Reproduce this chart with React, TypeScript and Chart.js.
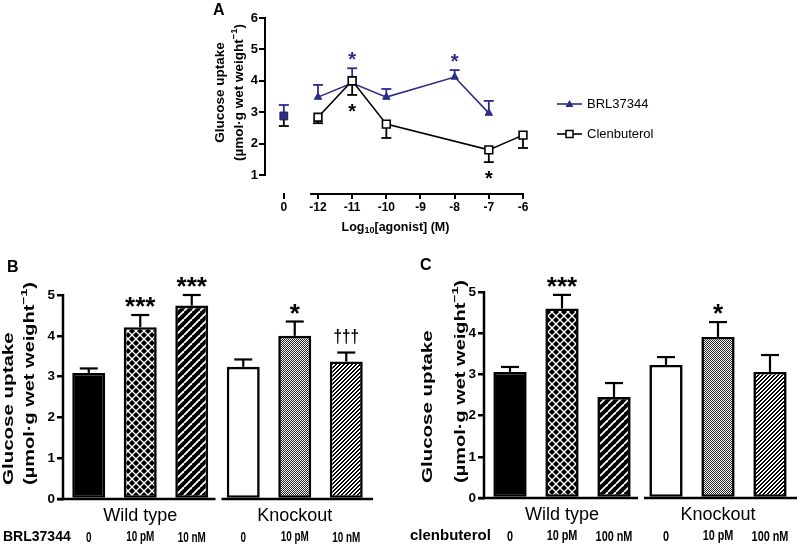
import React, { useEffect, useRef } from 'react';
import { Chart, registerables } from 'chart.js';

Chart.register(...registerables);

const FONT = '"Liberation Sans", Arial, Helvetica, sans-serif';
const NAVY = '#2b2d86';

// ---------------- Panel A data ----------------
const aTickValues = [-13, -12, -11, -10, -9, -8, -7, -6];
const aTickLabels = ['0', '-12', '-11', '-10', '-9', '-8', '-7', '-6'];
const aYTicks = [1, 2, 3, 4, 5, 6];
const basalX = [-13];
const basalMean = [2.88];
const basalErrHigh = [3.23];
const basalErrLow = [2.56];
const brlX = [-12, -11, -10, -8, -7];
const brlMean = [3.48, 3.93, 3.48, 4.12, 2.97];
const brlErrHigh = [3.87, 4.4, 3.74, 4.34, 3.36];
const brlSig = ['', '*', '', '*', ''];
const clenX = [-12, -11, -10, -7, -6];
const clenMean = [2.84, 4.0, 2.62, 1.8, 2.27];
const clenErrLow = [2.65, 3.55, 2.18, 1.41, 1.86];
const clenSig = ['', '*', '', '*', ''];
const legendLabels = ['BRL37344', 'Clenbuterol'];

// ---------------- Panel B data ----------------
const bDoses = ['0', '10 pM', '10 nM', '0', '10 pM', '10 nM'];
const bMean = [3.09, 4.21, 4.74, 3.24, 4.0, 3.37];
const bErrTop = [3.2, 4.51, 5.0, 3.42, 4.35, 3.59];
const bMarks = ['', '***', '***', '', '*', '†††'];

// ---------------- Panel C data ----------------
const cDoses = ['0', '10 pM', '100 nM', '0', '10 pM', '100 nM'];
const cMean = [3.06, 4.6, 2.45, 3.23, 3.91, 3.06];
const cErrTop = [3.18, 4.93, 2.79, 3.42, 4.27, 3.47];
const cMarks = ['', '***', '', '', '*', ''];

const groupNames = ['Wild type', 'Knockout'];
const groupIndex = [1, 4];
const barTicks = [0, 1, 2, 3, 4, 5];

// ---------------- helpers ----------------
type Part = { t: string; size: number; bold?: boolean; dy?: number };
const fontOf = (size: number, bold = true) => `${bold ? 'bold ' : ''}${size}px ${FONT}`;

function drawRich(ctx: CanvasRenderingContext2D, parts: Part[], x: number, y: number, align: 'center' | 'left') {
  ctx.textBaseline = 'middle';
  ctx.textAlign = 'left';
  let total = 0;
  parts.forEach((p) => {
    ctx.font = fontOf(p.size, p.bold !== false);
    total += ctx.measureText(p.t).width;
  });
  let cx = align === 'center' ? x - total / 2 : x;
  parts.forEach((p) => {
    ctx.font = fontOf(p.size, p.bold !== false);
    ctx.fillText(p.t, cx, y + (p.dy ?? 0));
    cx += ctx.measureText(p.t).width;
  });
}

function vTitle(ctx: CanvasRenderingContext2D, parts: Part[], x: number, y: number, align: 'center' | 'left', squeeze: number) {
  ctx.save();
  ctx.translate(x, y);
  ctx.rotate(-Math.PI / 2);
  ctx.scale(1, squeeze);
  ctx.fillStyle = '#000';
  drawRich(ctx, parts, 0, 0, align);
  ctx.restore();
}

function glyphCentered(ctx: CanvasRenderingContext2D, text: string, x: number, cy: number, font: string, color: string, sx = 1) {
  ctx.save();
  ctx.font = font;
  ctx.fillStyle = color;
  ctx.textAlign = 'center';
  ctx.textBaseline = 'alphabetic';
  const m = ctx.measureText(text);
  ctx.translate(x, cy + (m.actualBoundingBoxAscent - m.actualBoundingBoxDescent) / 2);
  ctx.scale(sx, 1);
  ctx.fillText(text, 0, 0);
  ctx.restore();
}

function seg(ctx: CanvasRenderingContext2D, x1: number, y1: number, x2: number, y2: number, w: number, color: string) {
  ctx.beginPath();
  ctx.strokeStyle = color;
  ctx.lineWidth = w;
  ctx.moveTo(x1, y1);
  ctx.lineTo(x2, y2);
  ctx.stroke();
}

function makePattern(size: number, draw: (g: CanvasRenderingContext2D, s: number) => void) {
  const c = document.createElement('canvas');
  c.width = size;
  c.height = size;
  const g = c.getContext('2d')!;
  draw(g, size);
  return g.createPattern(c, 'repeat')!;
}

function makePatterns() {
  // black diamonds separated by thin white diagonal lines
  const diamonds = makePattern(8, (g, s) => {
    g.fillStyle = '#fff';
    g.fillRect(0, 0, s, s);
    g.fillStyle = '#000';
    const h = 3.1;
    const centers = [[s / 2, s / 2], [0, 0], [s, 0], [0, s], [s, s]];
    centers.forEach(([cx, cy]) => {
      g.beginPath();
      g.moveTo(cx, cy - h);
      g.lineTo(cx + h, cy);
      g.lineTo(cx, cy + h);
      g.lineTo(cx - h, cy);
      g.closePath();
      g.fill();
    });
  });
  const wideStripes = makePattern(8, (g, s) => {
    g.fillStyle = '#000';
    g.fillRect(0, 0, s, s);
    g.strokeStyle = '#fff';
    g.lineWidth = 1.8;
    for (const o of [-s, 0, s]) {
      g.beginPath(); g.moveTo(o, s); g.lineTo(o + s, 0); g.stroke();
    }
  });
  const fineChecker = makePattern(2, (g) => {
    g.fillStyle = '#fff';
    g.fillRect(0, 0, 2, 2);
    g.fillStyle = '#222';
    g.fillRect(0, 0, 1, 1);
    g.fillRect(1, 1, 1, 1);
  });
  const fineStripes = makePattern(4, (g) => {
    g.fillStyle = '#fff';
    g.fillRect(0, 0, 4, 4);
    g.fillStyle = '#000';
    for (let x = 0; x < 4; x++) for (let y = 0; y < 4; y++) if ((x + y) % 4 < 2) g.fillRect(x, y, 1, 1);
  });
  return ['#000', diamonds, wideStripes, '#fff', fineChecker, fineStripes];
}

// ---------------- Panel A ----------------
const A_W = 485;
const A_H = 245;

function buildA(): any {
  const decor = {
    id: 'aDecor',
    beforeDatasetsDraw(chart: any) {
      const { ctx, scales } = chart;
      const x = scales.x, y = scales.y;
      ctx.save();
      const bar = (xv: number, from: number, to: number, color: string) => {
        const px = x.getPixelForValue(xv);
        seg(ctx, px, y.getPixelForValue(from), px, y.getPixelForValue(to), 1.8, color);
        seg(ctx, px - 5, y.getPixelForValue(to), px + 5, y.getPixelForValue(to), 1.8, color);
      };
      basalX.forEach((xv, i) => {
        bar(xv, basalMean[i], basalErrHigh[i], NAVY);
        bar(xv, basalMean[i], basalErrLow[i], '#000');
      });
      brlX.forEach((xv, i) => bar(xv, brlMean[i], brlErrHigh[i], NAVY));
      clenX.forEach((xv, i) => bar(xv, clenMean[i], clenErrLow[i], '#000'));
      ctx.restore();
    },
    afterDatasetsDraw(chart: any) {
      const { ctx, scales } = chart;
      const x = scales.x, y = scales.y;
      brlX.forEach((xv, i) => {
        if (brlSig[i]) glyphCentered(ctx, brlSig[i], x.getPixelForValue(xv), y.getPixelForValue(brlErrHigh[i]) - 12, fontOf(20), NAVY);
      });
      clenX.forEach((xv, i) => {
        if (clenSig[i]) glyphCentered(ctx, clenSig[i], x.getPixelForValue(xv), y.getPixelForValue(clenErrLow[i]) + 13, fontOf(20), '#000');
      });
    },
    afterDraw(chart: any) {
      const { ctx, scales, chartArea } = chart;
      const x = scales.x, y = scales.y;
      ctx.save();
      // axes
      seg(ctx, chartArea.left, y.getPixelForValue(1) + 1, chartArea.left, y.getPixelForValue(6) - 1, 2, '#000');
      seg(ctx, x.getPixelForValue(brlX[0] - 0.23), chartArea.bottom + 1, x.getPixelForValue(-6) + 1, chartArea.bottom + 1, 2, '#000');
      // y title
      const cy = (y.getPixelForValue(1) + y.getPixelForValue(6)) / 2 - 4;
      vTitle(ctx, [{ t: 'Glucose uptake', size: 13.5 }], 25, cy, 'center', 1);
      vTitle(ctx, [{ t: '(µmol·g wet weight', size: 13.5 }, { t: '−1', size: 9.5, dy: -5 }, { t: ')', size: 13.5 }], 44, cy, 'center', 1);
      // x title
      ctx.fillStyle = '#000';
      drawRich(ctx, [{ t: 'Log', size: 12.5 }, { t: '10', size: 9, dy: 3 }, { t: '[agonist] (M)', size: 12.5 }], (chartArea.left + chartArea.right) / 2, 228, 'center');
      // panel letter
      ctx.font = fontOf(16);
      ctx.textAlign = 'left';
      ctx.textBaseline = 'middle';
      ctx.fillText('A', 18, 11);
      // legend
      const lx = chartArea.right + 31;
      const ly = [104, 134];
      seg(ctx, lx, ly[0], lx + 25, ly[0], 1.6, NAVY);
      ctx.fillStyle = NAVY;
      ctx.beginPath();
      ctx.moveTo(lx + 12.5, ly[0] - 4);
      ctx.lineTo(lx + 16.5, ly[0] + 3);
      ctx.lineTo(lx + 8.5, ly[0] + 3);
      ctx.closePath();
      ctx.fill();
      seg(ctx, lx, ly[1], lx + 25, ly[1], 1.6, '#000');
      ctx.fillStyle = '#fff';
      ctx.fillRect(lx + 9, ly[1] - 3.5, 7, 7);
      ctx.strokeStyle = '#000';
      ctx.lineWidth = 1.5;
      ctx.strokeRect(lx + 9, ly[1] - 3.5, 7, 7);
      ctx.fillStyle = '#000';
      ctx.font = fontOf(13, false);
      ctx.textAlign = 'left';
      ctx.textBaseline = 'middle';
      legendLabels.forEach((l, i) => ctx.fillText(l, lx + 30, ly[i]));
      ctx.restore();
    },
  };

  return {
    type: 'line',
    data: {
      datasets: [
        {
          label: legendLabels[1],
          data: clenX.map((xv, i) => ({ x: xv, y: clenMean[i] })),
          borderColor: '#000',
          borderWidth: 1.6,
          pointStyle: 'rect',
          pointRadius: 5.5,
          pointBackgroundColor: '#fff',
          pointBorderColor: '#000',
          pointBorderWidth: 1.6,
          tension: 0,
          clip: false,
        },
        {
          label: legendLabels[0],
          data: brlX.map((xv, i) => ({ x: xv, y: brlMean[i] })),
          borderColor: NAVY,
          borderWidth: 1.6,
          pointStyle: 'triangle',
          pointRadius: 4.3,
          pointBackgroundColor: NAVY,
          pointBorderColor: NAVY,
          pointBorderWidth: 1,
          tension: 0,
          clip: false,
        },
        {
          label: 'Basal',
          data: basalX.map((xv, i) => ({ x: xv, y: basalMean[i] })),
          showLine: false,
          pointStyle: 'rect',
          pointRadius: 5.5,
          pointBackgroundColor: NAVY,
          pointBorderColor: '#1c1c50',
          pointBorderWidth: 1,
          clip: false,
        },
      ],
    },
    options: {
      responsive: false,
      animation: false,
      layout: { padding: { top: 18, right: A_W - 331, left: 0, bottom: 0 } },
      plugins: { legend: { display: false }, tooltip: { enabled: false } },
      scales: {
        x: {
          type: 'linear',
          min: -13.551,
          max: -5.912,
          afterBuildTicks: (s: any) => {
            s.ticks = aTickValues.map((v) => ({ value: v }));
          },
          ticks: {
            callback: (_v: any, i: number) => aTickLabels[i],
            font: { family: FONT, size: 12, weight: 'bold' },
            color: '#000',
            padding: 1,
            maxRotation: 0,
            autoSkip: false,
          },
          grid: { drawOnChartArea: false, tickLength: 6, lineWidth: 2, color: '#000' },
          border: { display: false },
          afterFit: (s: any) => {
            s.height = A_H - 193;
          },
        },
        y: {
          min: 0.427,
          max: 6,
          afterBuildTicks: (s: any) => {
            s.ticks = aYTicks.map((v) => ({ value: v }));
          },
          ticks: { font: { family: FONT, size: 13, weight: 'bold' }, color: '#000', padding: 1 },
          grid: { drawOnChartArea: false, tickLength: 6, lineWidth: 2, color: '#000' },
          border: { display: false },
          afterFit: (s: any) => {
            s.width = 70;
          },
        },
      },
    },
    plugins: [decor],
  };
}

// ---------------- Panels B & C ----------------
type BarPanel = {
  letter: string;
  letterX: number;
  letterY: number;
  means: number[];
  errTop: number[];
  marks: string[];
  doses: string[];
  agent: string;
  agentX: number;
  agentSize: number;
  titleX: [number, number];
  titleStartDy: number;
  doseScale: number;
  axisWidth: number;
  xHeight: number;
  padRight: number;
};

function buildBar(p: BarPanel): any {
  const decor = {
    id: 'barDecor',
    afterDatasetsDraw(chart: any) {
      const { ctx, scales } = chart;
      const y = scales.y;
      const meta = chart.getDatasetMeta(0);
      ctx.save();
      p.errTop.forEach((e, i) => {
        const el = meta.data[i];
        const top = y.getPixelForValue(e);
        seg(ctx, el.x, el.y, el.x, top, 2.2, '#000');
        seg(ctx, el.x - 9, top, el.x + 9, top, 2.2, '#000');
        const m = p.marks[i];
        if (m) {
          if (m.startsWith('†')) glyphCentered(ctx, m, el.x, top - 16, fontOf(18), '#000', 0.85);
          else glyphCentered(ctx, m, el.x, top - 13, fontOf(26), '#000');
        }
      });
      ctx.restore();
    },
    afterDraw(chart: any) {
      const { ctx, scales, chartArea } = chart;
      const x = scales.x, y = scales.y;
      ctx.save();
      // axes
      seg(ctx, chartArea.left, chartArea.bottom + 1.25, chartArea.left, y.getPixelForValue(5) - 1, 2.5, '#000');
      const mid = (x.getPixelForValue(2) + x.getPixelForValue(3)) / 2;
      seg(ctx, chartArea.left - 6, chartArea.bottom, mid - 2, chartArea.bottom, 2.5, '#000');
      seg(ctx, mid + 4, chartArea.bottom, chartArea.right + 1, chartArea.bottom, 2.5, '#000');
      // y title
      const sy = chartArea.bottom + p.titleStartDy;
      vTitle(ctx, [{ t: 'Glucose uptake', size: 20.5 }], p.titleX[0], sy, 'left', 0.7);
      vTitle(ctx, [{ t: '(µmol·g wet weight', size: 20 }, { t: '−1', size: 14, dy: -8 }, { t: ')', size: 20 }], p.titleX[1], sy, 'left', 0.7);
      // group labels
      ctx.fillStyle = '#000';
      ctx.font = fontOf(18, false);
      ctx.textAlign = 'center';
      ctx.textBaseline = 'middle';
      groupNames.forEach((g, i) => ctx.fillText(g, x.getPixelForValue(groupIndex[i]), chartArea.bottom + 17));
      // dose labels
      p.doses.forEach((d, i) => glyphCentered(ctx, d, x.getPixelForValue(i), chartArea.bottom + 38, fontOf(15.5), '#000', p.doseScale));
      // agent label
      ctx.fillStyle = '#000';
      ctx.font = fontOf(p.agentSize);
      ctx.textAlign = 'left';
      ctx.textBaseline = 'middle';
      ctx.fillText(p.agent, p.agentX, chartArea.bottom + 38);
      // panel letter
      ctx.font = fontOf(16);
      ctx.fillText(p.letter, p.letterX, p.letterY);
      ctx.restore();
    },
  };

  return {
    type: 'bar',
    data: {
      labels: p.doses,
      datasets: [
        {
          data: p.means,
          backgroundColor: makePatterns(),
          borderColor: '#000',
          borderWidth: 2.6,
          borderSkipped: false,
          barPercentage: 0.64,
          categoryPercentage: 1,
        },
      ],
    },
    options: {
      responsive: false,
      animation: false,
      layout: { padding: { top: 40, right: p.padRight, left: 0, bottom: 0 } },
      plugins: { legend: { display: false }, tooltip: { enabled: false } },
      scales: {
        x: {
          grid: { display: false },
          border: { display: false },
          ticks: { display: false },
          afterFit: (s: any) => {
            s.height = p.xHeight;
          },
        },
        y: {
          min: 0,
          max: 5,
          afterBuildTicks: (s: any) => {
            s.ticks = barTicks.map((v) => ({ value: v }));
          },
          ticks: { font: { family: FONT, size: 13.5, weight: 'bold' }, color: '#000', padding: 2 },
          grid: { drawOnChartArea: false, tickLength: 6, lineWidth: 2.5, color: '#000' },
          border: { display: false },
          afterFit: (s: any) => {
            s.width = p.axisWidth;
          },
        },
      },
    },
    plugins: [decor],
  };
}

const buildB = () =>
  buildBar({
    letter: 'B', letterX: 7, letterY: 13,
    means: bMean, errTop: bErrTop, marks: bMarks, doses: bDoses,
    agent: 'BRL37344', agentX: 3, agentSize: 14,
    titleX: [9, 30], titleStartDy: -14, doseScale: 0.64,
    axisWidth: 63, xHeight: 48, padRight: 28,
  });

const buildC = () =>
  buildBar({
    letter: 'C', letterX: 20, letterY: 14,
    means: cMean, errTop: cErrTop, marks: cMarks, doses: cDoses,
    agent: 'clenbuterol', agentX: 10, agentSize: 15,
    titleX: [28, 61], titleStartDy: -15, doseScale: 0.7,
    axisWidth: 84, xHeight: 49, padRight: 4,
  });

function ChartBox(props: { left: number; top: number; width: number; height: number; build: () => any }) {
  const ref = useRef<HTMLCanvasElement>(null);
  useEffect(() => {
    const chart = new Chart(ref.current as HTMLCanvasElement, props.build());
    return () => chart.destroy();
  }, []);
  return (
    <canvas
      ref={ref}
      width={props.width}
      height={props.height}
      style={{ position: 'absolute', left: props.left, top: props.top, width: props.width, height: props.height }}
    />
  );
}

export default function App() {
  return (
    <div style={{ position: 'absolute', left: 0, top: 0, width: 800, height: 547, background: '#fff', overflow: 'hidden' }}>
      <ChartBox left={195} top={0} width={A_W} height={A_H} build={buildA} />
      <ChartBox left={0} top={255} width={400} height={292} build={buildB} />
      <ChartBox left={400} top={252} width={400} height={295} build={buildC} />
    </div>
  );
}
